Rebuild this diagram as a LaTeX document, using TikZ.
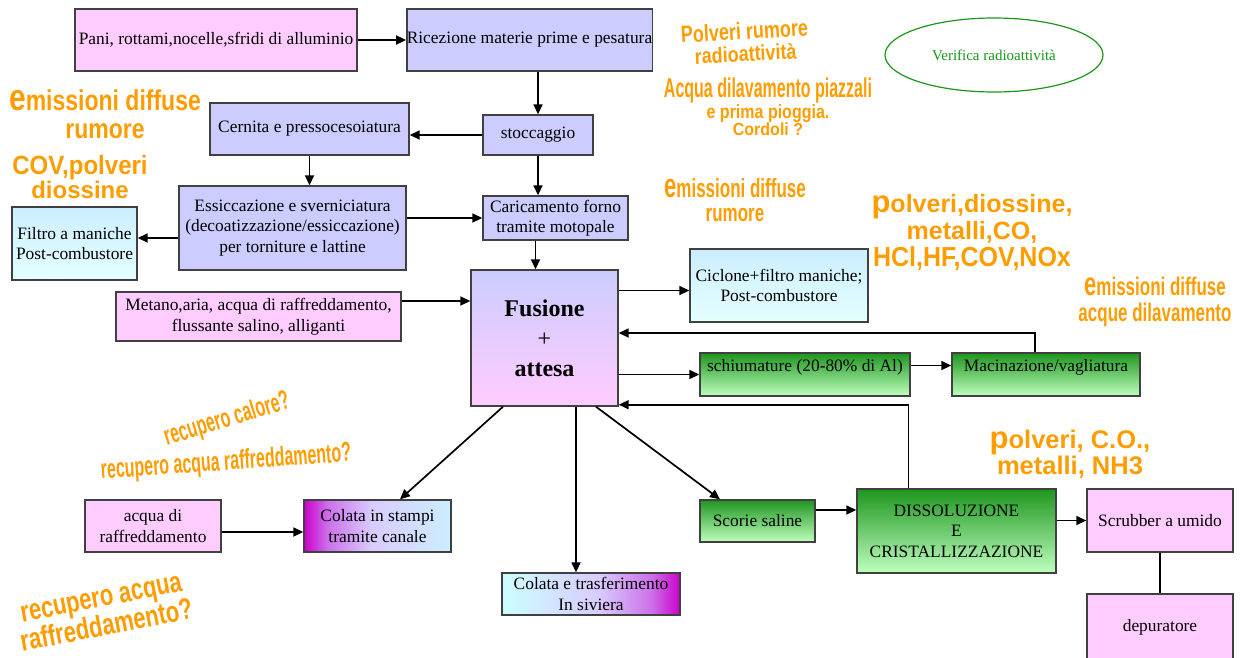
\documentclass[tikz,border=0pt]{standalone}
\usepackage{fontspec}
\usepackage{graphicx}
\setmainfont{Liberation Serif}
\newfontfamily\artfont{Liberation Sans}
\usetikzlibrary{shapes.geometric,arrows.meta}

\definecolor{rosa}{HTML}{FFCCFF}
\definecolor{lilla}{HTML}{CCCCFF}
\definecolor{celeste}{HTML}{CCEEFF}
\definecolor{celchiaro}{HTML}{E4FFFF}
\definecolor{verdesc}{HTML}{1E961E}
\definecolor{verdech}{HTML}{BFFFBF}
\definecolor{viola}{HTML}{CC00CC}
\definecolor{ciano}{HTML}{CCFFFF}
\definecolor{arancio}{HTML}{FF9C00}
\definecolor{verif}{HTML}{1A961A}
\definecolor{bordo}{HTML}{404040}

\pgfdeclarehorizontalshading{colstampi}{100bp}{color(0bp)=(viola); color(25bp)=(viola);
  color(33bp)=(lilla!55!viola); color(48bp)=(lilla!75!rosa); color(75bp)=(celeste); color(100bp)=(celeste)}
\pgfdeclarehorizontalshading{colsiviera}{100bp}{color(0bp)=(ciano); color(25bp)=(ciano);
  color(52bp)=(lilla!75!rosa); color(67bp)=(lilla!55!viola); color(75bp)=(viola); color(100bp)=(viola)}

\newcommand{\wa}[2]{\artfont\bfseries\fontsize{#1}{#2}\selectfont}
\newcommand{\alto}[2]{\scalebox{1}[#1]{#2}}
\newcommand{\iniziale}[2]{{\fontsize{#1}{#1}\selectfont #2}}

\begin{document}
\begin{tikzpicture}[x=1pt,y=-1pt,
    box/.style={draw=bordo,line width=1.4pt,inner sep=0pt,align=center,
                font=\fontsize{17.4}{20.5}\selectfont},
    sz/.style 2 args={minimum width=#1,minimum height=#2},
    rosabox/.style={box,fill=rosa},
    lillabox/.style={box,fill=lilla},
    cielbox/.style={box,top color=celeste,bottom color=celchiaro},
    verdebox/.style={box,top color=verdesc,bottom color=verdech},
    freccia/.style={line width=1.7pt,-{Triangle[length=10pt,width=9pt]}},
    scritta/.style={text=arancio,align=center,inner sep=0pt}]
    \useasboundingbox (0,0) rectangle (1242,657);
    % ingresso materiali
    \node[rosabox,sz={282pt}{62pt}] (pani) at (216,40) {Pani, rottami,nocelle,sfridi di alluminio};
    \node[lillabox,sz={221pt}{62pt}] (ricez) at (529.5,40) {Ricezione materie prime e pesatura};
    \node[lillabox,sz={110pt}{40pt}] (stocc) at (538,135) {stoccaggio};
    \node[lillabox,sz={199pt}{52pt}] (cern) at (309.5,129) {Cernita e pressocesoiatura};
    \node[lillabox,sz={227pt}{84pt}] (essic) at (292.5,228) {Essiccazione e sverniciatura\\(decoatizzazione/essiccazione)\\per torniture e lattine};
    \node[cielbox,sz={125pt}{73pt}] (filtro) at (74.5,243.5) {Filtro a maniche\\Post-combustore};
    \node[lillabox,sz={145pt}{44pt}] (caric) at (555.5,218) {Caricamento forno\\tramite motopale};
    % forno
    \node[box,sz={147pt}{136pt},top color=lilla,bottom color=rosa,
          font=\fontsize{24}{30}\selectfont] (fus) at (544.5,338) {\textbf{Fusione}\\+\\\textbf{attesa}};
    \node[rosabox,sz={285pt}{49pt}] (metano) at (258.5,316.5) {Metano,aria, acqua di raffreddamento,\\flussante salino, alliganti};
    \node[cielbox,sz={178pt}{73pt}] (ciclone) at (779,285.5) {Ciclone+filtro maniche;\\Post-combustore};
    \node[verdebox,sz={210pt}{43pt},text height=12pt,text depth=19pt] (schium) at (805,374.5) {schiumature (20-80\% di Al)};
    \node[verdebox,sz={188pt}{43pt},text height=12pt,text depth=19pt] (macin) at (1046,374.5) {Macinazione/vagliatura};
    % uscite
    \node[verdebox,sz={115pt}{42pt}] (scorie) at (757.5,521) {Scorie saline};
    \node[verdebox,sz={199pt}{84pt}] (dissol) at (956.5,531) {DISSOLUZIONE\\E\\CRISTALLIZZAZIONE};
    \node[rosabox,sz={146pt}{63pt}] (scrub) at (1160,520.5) {Scrubber a umido};
    \node[rosabox,sz={146pt}{66pt}] (depur) at (1160,627) {depuratore};
    \node[box,sz={178pt}{42pt},shading=colsiviera] (colsiv) at (591,594) {Colata e trasferimento\\In siviera};
    \node[box,sz={147pt}{52pt},shading=colstampi] (colstamp) at (377.5,526) {Colata in stampi\\tramite canale};
    \node[rosabox,sz={136pt}{52pt}] (acqua) at (153,526) {acqua di\\raffreddamento};
    \node[ellipse,draw=verif,line width=1.2pt,text=verif,sz={218pt}{74pt},
          font=\fontsize{15}{18}\selectfont] (verifica) at (994,55) {Verifica radioattività};

    % collegamenti
    \draw[freccia] (pani) -- (ricez);
    \draw[freccia] (ricez.south -| stocc.north) -- (stocc.north);
    \draw[freccia] (stocc.west) -- (stocc.west -| cern.east);
    \draw[freccia] (cern.south) -- (cern.south |- essic.north);
    \draw[freccia] ([yshift=-10pt]essic.west) -- ([yshift=-10pt]essic.west -| filtro.east);
    \draw[freccia] (caric.west -| essic.east) -- (caric.west);
    \draw[freccia] (stocc.south) -- (stocc.south |- caric.north);
    \draw[freccia] ([xshift=-20pt]caric.south) -- ([xshift=-20pt]caric.south |- fus.north);
    \draw[freccia] ([yshift=15.5pt]metano.east) -- ([yshift=15.5pt]metano.east -| fus.west);
    \draw[freccia] ([yshift=-5pt]ciclone.west -| fus.east) -- ([yshift=-5pt]ciclone.west);
    \draw[freccia] (fus.east |- schium.west) -- (schium.west);
    \draw[freccia] ([yshift=9pt]schium.east) -- ([yshift=9pt]schium.east -| macin.west);
    \draw[freccia] ([xshift=-11pt]macin.north) |- ([yshift=5pt]fus.east);
    \draw[freccia] ([xshift=-48pt]dissol.north) |- ([yshift=2pt]fus.south east);
    \draw[freccia] ([xshift=-41.5pt]fus.south) -- ([xshift=22.5pt]colstamp.north);
    \draw[freccia] ([xshift=31.5pt]fus.south) -- ([xshift=31.5pt]fus.south |- colsiv.north);
    \draw[freccia] ([xshift=51.5pt]fus.south) -- ([xshift=-37.5pt]scorie.north);
    \draw[freccia] ([yshift=-6pt]acqua.east) -- ([yshift=-6pt]acqua.east -| colstamp.west);
    \draw[freccia] ([yshift=11pt]scorie.east) -- ([yshift=11pt]scorie.east -| dissol.west);
    \draw[freccia] (dissol.east |- scrub.west) -- (scrub.west);
    \draw[line width=1.7pt] (scrub) -- (depur);

    % scritte arancioni
    \node[scritta,font=\wa{23}{28}] (emis1) at (105,114) {\alto{1.25}{\iniziale{30}{e}missioni diffuse}\\\alto{1.2}{rumore}};
    \node[scritta,font=\wa{24}{22}] (cov) at (80,177) {\alto{1.1}{COV,polveri}\\diossine};
    \node[scritta,font=\wa{18}{22},rotate=3] (polv1) at (745,42) {\alto{1.3}{Polveri rumore}\\\alto{1.2}{radioattività}};
    \node[scritta,font=\wa{16}{16}] (piazz) at (768,107) {\alto{1.7}{Acqua dilavamento piazzali}\\\alto{1.2}{e prima pioggia.}\\\alto{1.1}{Cordoli ?}};
    \node[scritta,font=\wa{17}{24}] (emis2) at (735,200) {\alto{1.55}{\iniziale{22}{e}missioni diffuse}\\\alto{1.45}{rumore}};
    \node[scritta,font=\wa{25}{27}] (polv2) at (972,233) {\iniziale{31}{p}olveri,diossine,\\metalli,CO,\\\alto{1.1}{HCl,HF,COV,NOx}};
    \node[scritta,font=\wa{17}{26}] (emis3) at (1155,302) {\alto{1.5}{\iniziale{22}{e}missioni diffuse}\\\alto{1.5}{acque dilavamento}};
    \node[scritta,font=\wa{16}{20},rotate=17] (recup1a) at (227,420) {\alto{1.7}{recupero calore?}};
    \node[scritta,font=\wa{16}{20},rotate=4] (recup1b) at (226,463) {\alto{1.7}{recupero acqua raffreddamento?}};
    \node[scritta,font=\wa{25.5}{24}] (polv3) at (1070,454) {\iniziale{31}{p}olveri, C.O.,\\metalli, NH3};
    \node[scritta,font=\wa{22}{26},rotate=11] (recup2) at (104,613) {\alto{1.35}{recupero acqua}\\\alto{1.35}{raffreddamento?}};
\end{tikzpicture}
\end{document}
